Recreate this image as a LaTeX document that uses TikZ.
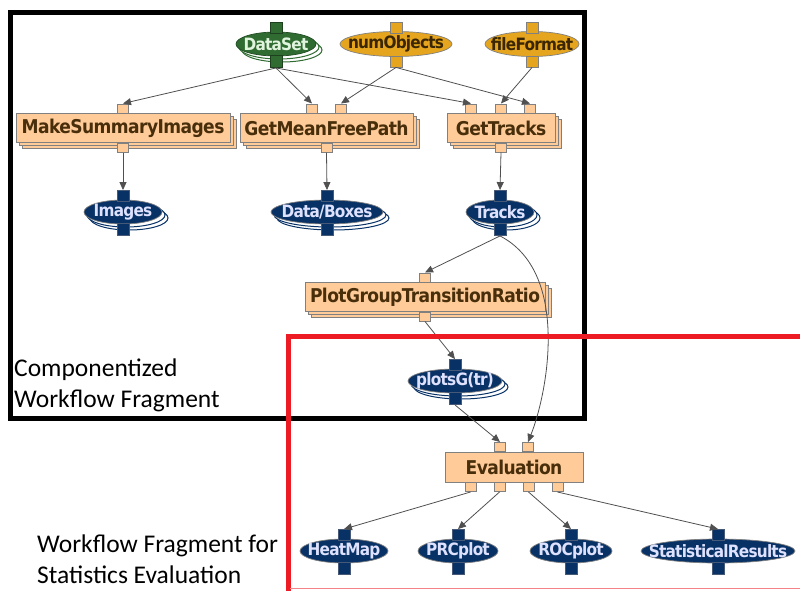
\documentclass[tikz,border=0pt]{standalone}
\usepackage{fontspec}
\setmainfont{Carlito}
\newfontfamily\boxfont{DejaVu Sans Condensed}[LetterSpace=-3]
\newfontfamily\ovalfont{DejaVu Sans Condensed}[LetterSpace=-4.5]
\usetikzlibrary{shapes.geometric,shadows,arrows.meta}

\definecolor{navy}{RGB}{8,50,102}
\definecolor{navytext}{RGB}{222,226,255}
\definecolor{navyedge}{RGB}{70,90,120}
\definecolor{dsgreen}{RGB}{48,108,50}
\definecolor{dstext}{RGB}{225,245,222}
\definecolor{ochre}{RGB}{230,165,30}
\definecolor{ochretext}{RGB}{58,38,0}
\definecolor{boxfill}{RGB}{255,204,153}
\definecolor{boxedge}{RGB}{128,128,128}
\definecolor{boxtext}{RGB}{72,46,10}
\definecolor{edgegray}{RGB}{80,80,80}
\definecolor{frame}{RGB}{237,28,36}

\newcommand\ovaltext[1]{\makebox[0pt]{#1}}

\begin{document}
\begin{tikzpicture}[x=1pt,y=-1pt,
  flow/.style={draw=edgegray, line width=0.8pt, -{Triangle[length=8pt,width=7pt]}},
  proc/.style={rectangle, draw=boxedge, fill=boxfill, line width=0.8pt,
    minimum height=29pt, inner sep=0pt, text=boxtext,
    font=\boxfont\bfseries\fontsize{19}{19}\selectfont},
  procstack/.style={proc, double copy shadow={shadow xshift=3pt, shadow yshift=-3pt,
    fill=boxfill, draw=boxedge, line width=0.8pt}},
  oval/.style={ellipse, fill=#1, draw=boxedge, line width=0.7pt,
    minimum height=24pt, inner sep=0pt,
    font=\ovalfont\bfseries\fontsize{17}{17}\selectfont},
  ovalstack/.style={oval=#1, double copy shadow={shadow xshift=3pt, shadow yshift=-3pt,
    fill=white, draw=#1, line width=1pt}},
  port/.style={rectangle, fill=#1, draw=boxedge, line width=0.6pt,
    minimum width=11pt, minimum height=9pt, inner sep=0pt},
  oport/.style={rectangle, fill=#1, draw=navyedge, line width=0.6pt,
    minimum width=12pt, minimum height=11pt, inner sep=0pt},
  caption/.style={inner sep=0pt, align=left, anchor=north west,
    font=\fontsize{25.5}{31}\selectfont}
]
\useasboundingbox (0,0) rectangle (800,590);

% fragment outline
\draw[line width=5pt] (10,12) rectangle (584,418);

% inputs
\node[ovalstack=dsgreen, minimum width=80pt, text=dstext, draw=dsgreen!70!black] (ds) at (276,44) {\ovaltext{DataSet}};
\node[oval=ochre, minimum width=112pt, text=ochretext, minimum height=25pt] (no) at (396,44) {\ovaltext{numObjects}};
\node[oval=ochre, minimum width=94pt, text=ochretext, minimum height=25pt] (ff) at (532,44) {\ovaltext{fileFormat}};

% components
\node[procstack, minimum width=214pt] (msi) at (123,128) {MakeSummaryImages};
\node[procstack, minimum width=173pt] (gm) at (326.5,128) {GetMeanFreePath};
\node[procstack, minimum width=108pt] (gt) at (501,128) {GetTracks};
\node[procstack, minimum width=240pt] (pg) at (425,297) {PlotGroupTransitionRatio};
\node[proc, minimum width=138pt, minimum height=30pt] (ev) at (514,467) {Evaluation};

% data products
\node[ovalstack=navy, minimum width=78pt, text=navytext] (img) at (123,212) {\ovaltext{Images}};
\node[ovalstack=navy, minimum width=112pt, text=navytext] (db) at (327,212) {\ovaltext{Data/Boxes}};
\node[ovalstack=navy, minimum width=68pt, text=navytext] (tk) at (500,212) {\ovaltext{Tracks}};
\node[ovalstack=navy, minimum width=94pt, text=navytext] (ps) at (455,381) {\ovaltext{plotsG(tr)}};
\node[oval=navy, minimum width=88pt, text=navytext] (hm) at (344,551) {\ovaltext{HeatMap}};
\node[oval=navy, minimum width=80pt, text=navytext] (pr) at (458,551) {\ovaltext{PRCplot}};
\node[oval=navy, minimum width=82pt, text=navytext] (ro) at (571,551) {\ovaltext{ROCplot}};
\node[oval=navy, minimum width=154pt, text=navytext] (sr) at (718,551) {\ovaltext{StatisticalResults}};

% ports of the inputs
\node[oport=dsgreen, draw=dsgreen!60!black, anchor=south] (ds-in) at ([yshift=-2pt]ds.north) {};
\node[oport=dsgreen, draw=dsgreen!60!black, anchor=north, minimum height=12pt] (ds-out) at ([yshift=1pt]ds.south) {};
\node[oport=ochre, draw=boxedge, anchor=south] (no-in) at ([yshift=-2pt]no.north) {};
\node[oport=ochre, draw=boxedge, anchor=north] (no-out) at ([yshift=1pt]no.south) {};
\node[oport=ochre, draw=boxedge, anchor=south] (ff-in) at ([yshift=-2pt]ff.north) {};
\node[oport=ochre, draw=boxedge, anchor=north] (ff-out) at ([yshift=1pt]ff.south) {};

% ports of the components
\node[port=boxfill, anchor=south] (msi-in) at (msi.north) {};
\node[port=boxfill, anchor=north] (msi-out) at (msi.south) {};
\node[port=boxfill, anchor=south] (gm-in1) at ([xshift=-14.5pt]gm.north) {};
\node[port=boxfill, anchor=south] (gm-in2) at ([xshift=14.5pt]gm.north) {};
\node[port=boxfill, anchor=north] (gm-out) at (gm.south) {};
\node[port=boxfill, anchor=south] (gt-in1) at ([xshift=-30pt]gt.north) {};
\node[port=boxfill, anchor=south] (gt-in2) at (gt.north) {};
\node[port=boxfill, anchor=south] (gt-in3) at ([xshift=29pt]gt.north) {};
\node[port=boxfill, anchor=north] (gt-out) at (gt.south) {};
\node[port=boxfill, anchor=south] (pg-in) at (pg.north) {};
\node[port=boxfill, anchor=north] (pg-out) at (pg.south) {};
\node[port=boxfill, anchor=south] (ev-in1) at ([xshift=-14pt]ev.north) {};
\node[port=boxfill, anchor=south] (ev-in2) at ([xshift=14pt]ev.north) {};
\node[port=boxfill, anchor=north] (ev-out1) at ([xshift=-43.5pt]ev.south) {};
\node[port=boxfill, anchor=north] (ev-out2) at ([xshift=-14.5pt]ev.south) {};
\node[port=boxfill, anchor=north] (ev-out3) at ([xshift=14.5pt]ev.south) {};
\node[port=boxfill, anchor=north] (ev-out4) at ([xshift=43.5pt]ev.south) {};

% ports of the data products
\foreach \d in {img,db,tk,ps,hm,pr,ro,sr}{
  \node[oport=navy, anchor=south] (\d-in) at ([yshift=-2pt]\d.north) {};
  \node[oport=navy, anchor=north, minimum height=12pt] (\d-out) at ([yshift=1pt]\d.south) {};
}

% connections
\draw[flow] (ds-out.south) -- (msi-in.north);
\draw[flow] (ds-out.south) -- (gm-in1.north);
\draw[flow] (ds-out.south) -- (gt-in1.north);
\draw[flow] (no-out.south) -- (gm-in2.north);
\draw[flow] (no-out.south) -- (gt-in3.north);
\draw[flow] (ff-out.south) -- (gt-in2.north);
\draw[flow] (msi-out.south) -- (img-in.north);
\draw[flow] (gm-out.south) -- (db-in.north);
\draw[flow] (gt-out.south) -- (tk-in.north);
\draw[flow] (tk-out.south) -- (pg-in.north);
\draw[flow] (tk-out.south) .. controls (570,272) and (548,392) .. (ev-in2.north);
\draw[flow] (pg-out.south) -- (ps-in.north);
\draw[flow] (ps-out.south) -- (ev-in1.north);
\draw[flow] (ev-out1.south) -- (hm-in.north);
\draw[flow] (ev-out2.south) -- (pr-in.north);
\draw[flow] (ev-out3.south) -- (ro-in.north);
\draw[flow] (ev-out4.south) -- (sr-in.north);

% statistics fragment outline
\draw[frame, line width=5pt] (800,336) -| (288,592);
\draw[frame!55, line width=1.2pt] (290,588.5) -- (800,588.5);

% captions
\node[caption] (cap1) at (14,359) {Componentized\\Workflow Fragment};
\node[caption] (cap2) at (37,535) {Workflow Fragment for\\Statistics Evaluation};
\end{tikzpicture}
\end{document}
